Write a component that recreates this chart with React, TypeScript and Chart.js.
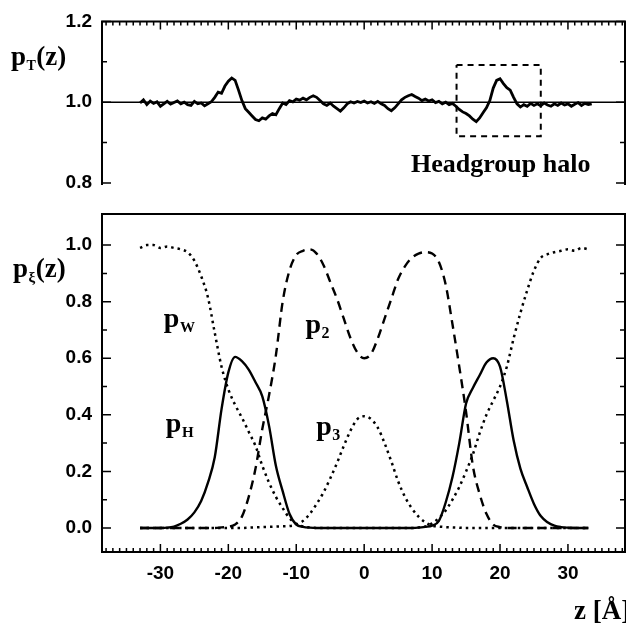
import React, { useEffect, useRef } from "react";
import { Chart, registerables } from "chart.js";

Chart.register(...registerables);

// ---------- data ----------
const zGrid = [
  -33, -32, -31, -30, -29, -28, -27, -26, -25, -24, -23, -22, -21, -20, -19, -18, -17,
  -16, -15, -14, -13, -12, -11, -10, -9, -8, -7, -6, -5, -4, -3, -2, -1, 0,
  1, 2, 3, 4, 5, 6, 7, 8, 9, 10, 11, 12, 13, 14, 15, 16, 17,
  18, 19, 20, 21, 22, 23, 24, 25, 26, 27, 28, 29, 30, 31, 32, 33,
];

// water
const pW = [
  0.99, 1.0, 1.0, 0.99, 0.995, 0.99, 0.985, 0.975, 0.945, 0.89, 0.815, 0.69, 0.57, 0.49, 0.435, 0.39, 0.34,
  0.29, 0.22, 0.16, 0.11, 0.07, 0.035, 0.015, 0.005, 0.002, 0.0, 0.0, 0.0, 0.0, 0.0, 0.0, 0.0, 0.0,
  0.0, 0.0, 0.0, 0.0, 0.0, 0.0, 0.0, 0.002, 0.005, 0.016, 0.035, 0.062, 0.1, 0.145, 0.2, 0.26, 0.335,
  0.4, 0.45, 0.5, 0.57, 0.67, 0.76, 0.84, 0.91, 0.955, 0.968, 0.975, 0.98, 0.985, 0.98, 0.99, 0.985,
];

// chains
const p2 = [
  0.0, 0.0, 0.0, 0.0, 0.0, 0.0, 0.0, 0.0, 0.0, 0.0, 0.0, 0.0, 0.002, 0.004, 0.012, 0.04, 0.11,
  0.21, 0.35, 0.47, 0.61, 0.8, 0.91, 0.965, 0.98, 0.985, 0.97, 0.93, 0.87, 0.81, 0.74, 0.67, 0.62, 0.6,
  0.615, 0.67, 0.74, 0.81, 0.88, 0.925, 0.955, 0.97, 0.975, 0.97, 0.94, 0.86, 0.72, 0.57, 0.41, 0.22, 0.12,
  0.05, 0.012, 0.003, 0.0, 0.0, 0.0, 0.0, 0.0, 0.0, 0.0, 0.0, 0.0, 0.0, 0.0, 0.0, 0.0,
];

// headgroups
const pH = [
  0.0, 0.0, 0.0, 0.0, 0.001, 0.005, 0.015, 0.03, 0.055, 0.095, 0.16, 0.25, 0.42, 0.55, 0.605, 0.59, 0.56,
  0.515, 0.465, 0.36, 0.22, 0.13, 0.05, 0.012, 0.004, 0.001, 0.0, 0.0, 0.0, 0.0, 0.0, 0.0, 0.0, 0.0,
  0.0, 0.0, 0.0, 0.0, 0.0, 0.0, 0.0, 0.001, 0.004, 0.008, 0.025, 0.09, 0.18, 0.3, 0.44, 0.495, 0.54,
  0.585, 0.6, 0.57, 0.45, 0.31, 0.21, 0.145, 0.085, 0.042, 0.02, 0.008, 0.003, 0.001, 0.0, 0.0, 0.0,
];

// terminal groups
const p3 = [
  0.0, 0.0, 0.0, 0.0, 0.0, 0.0, 0.0, 0.0, 0.0, 0.0, 0.0, 0.0, 0.0, 0.0, 0.0, 0.0, 0.001,
  0.002, 0.003, 0.004, 0.005, 0.006, 0.007, 0.012, 0.025, 0.05, 0.085, 0.125, 0.175, 0.23, 0.29, 0.345, 0.385, 0.395,
  0.385, 0.355, 0.3, 0.235, 0.165, 0.11, 0.07, 0.04, 0.02, 0.008, 0.005, 0.003, 0.002, 0.001, 0.0, 0.0, 0.0,
  0.0, 0.0, 0.0, 0.0, 0.0, 0.0, 0.0, 0.0, 0.0, 0.0, 0.0, 0.0, 0.0, 0.0, 0.0, 0.0,
];

// total density (top panel)
const ptZ = [
  -33, -32.5, -32, -31.5, -31, -30.5, -30, -29.5, -29, -28.5, -28, -27.5, -27, -26.5, -26, -25.5,
  -25, -24.5, -24, -23.5, -23, -22.5, -22, -21.5, -21, -20.5, -20, -19.5, -19, -18.5, -18, -17.5,
  -17, -16.5, -16, -15.5, -15, -14.5, -14, -13.5, -13, -12.5, -12, -11.5, -11, -10.5, -10, -9.5,
  -9, -8.5, -8, -7.5, -7, -6.5, -6, -5.5, -5, -4.5, -4, -3.5, -3, -2.5, -2, -1.5,
  -1, -0.5, 0, 0.5, 1, 1.5, 2, 2.5, 3, 3.5, 4, 4.5, 5, 5.5, 6, 6.5,
  7, 7.5, 8, 8.5, 9, 9.5, 10, 10.5, 11, 11.5, 12, 12.5, 13, 13.5, 14, 14.5,
  15, 15.5, 16, 16.5, 17, 17.5, 18, 18.5, 19, 19.5, 20, 20.5, 21, 21.5, 22, 22.5,
  23, 23.5, 24, 24.5, 25, 25.5, 26, 26.5, 27, 27.5, 28, 28.5, 29, 29.5, 30, 30.5,
  31, 31.5, 32, 32.5, 33, 33.5,
];
const pT = [
  0.998, 1.006, 0.994, 1.003, 0.997, 1.001, 0.99, 0.996, 1.002, 0.995, 0.999, 1.003, 0.996, 1.0, 0.994, 0.992,
  1.002, 0.996, 0.998, 0.991, 0.996, 1.001, 1.012, 1.025, 1.022, 1.04, 1.052, 1.06, 1.054, 1.03, 1.004, 0.984,
  0.975, 0.966, 0.957, 0.954, 0.961, 0.958, 0.966, 0.972, 0.969, 0.984, 0.998, 0.994, 1.004, 1.001, 1.008, 1.005,
  1.01, 1.006, 1.012, 1.016, 1.012, 1.004, 0.996, 0.992, 0.998, 0.99, 0.984, 0.978, 0.986, 0.996, 1.001, 0.998,
  1.002, 0.999, 1.003, 0.998, 1.001, 0.997, 1.002, 0.996, 0.992, 0.984, 0.979, 0.986, 0.996, 1.006, 1.012, 1.016,
  1.019, 1.014, 1.01, 1.004, 1.008, 1.003, 1.006, 0.999, 1.002, 0.996, 1.0, 0.994, 0.997, 0.99, 0.982, 0.976,
  0.972, 0.966, 0.958, 0.952, 0.961, 0.974, 0.986, 1.004, 1.035, 1.054, 1.058, 1.046, 1.036, 1.03, 1.012, 0.996,
  0.988, 0.994, 0.99, 0.997, 0.992, 0.996, 0.991, 0.998, 0.993, 0.99, 0.996, 0.992, 0.998, 0.993, 0.996, 0.99,
  0.995, 0.999, 0.992, 0.997, 0.994, 0.996,
];

// dashed "headgroup halo" box (data coordinates)
const haloZ = [13.6, 26.0, 26.0, 13.6, 13.6];
const haloP = [1.092, 1.092, 0.916, 0.916, 1.092];

const topYTicks = [0.8, 1.0, 1.2];
const topYMinor = [0.9, 1.1];
const botYTicks = [0.0, 0.2, 0.4, 0.6, 0.8, 1.0];
const botYMinor = [0.1, 0.3, 0.5, 0.7, 0.9];
const xTickLabels = [-30, -20, -10, 0, 10, 20, 30];

// ---------- layout / style ----------
const W = 626;
const H = 625;
const X_MIN = -38.6;
const X_MAX = 38.4;
const SANS = "'Liberation Sans', Arial, sans-serif";
const SERIF = "'Liberation Serif', 'Times New Roman', serif";

const xMinorTicks: number[] = [];
for (let k = Math.ceil(X_MIN); k <= Math.floor(X_MAX); k++) xMinorTicks.push(k);

function drawSub(ctx: CanvasRenderingContext2D, x: number, y: number, main: string, sub: string, tail: string, mainSize: number, subSize: number, subDy: number) {
  ctx.font = `bold ${mainSize}px ${SERIF}`;
  ctx.fillText(main, x, y);
  let cx = x + ctx.measureText(main).width + 0.5;
  ctx.font = `bold ${subSize}px ${SERIF}`;
  ctx.fillText(sub, cx, y + subDy);
  cx += ctx.measureText(sub).width + 0.5;
  if (tail) {
    ctx.font = `bold ${mainSize}px ${SERIF}`;
    ctx.fillText(tail, cx, y);
  }
}

const topFrame = {
  id: "topFrame",
  afterDraw(chart: any) {
    const { ctx, chartArea: a, scales } = chart;
    const xs = scales.x;
    const ys = scales.y;
    ctx.save();
    ctx.strokeStyle = "#000";
    ctx.fillStyle = "#000";
    ctx.lineWidth = 2;
    ctx.beginPath();
    ctx.moveTo(a.left, a.bottom + 2);
    ctx.lineTo(a.left, a.top);
    ctx.lineTo(a.right, a.top);
    ctx.lineTo(a.right, a.bottom + 2);
    ctx.stroke();
    // reference line at 1.0
    ctx.lineWidth = 1.5;
    const y1 = ys.getPixelForValue(1.0);
    ctx.beginPath();
    ctx.moveTo(a.left, y1);
    ctx.lineTo(a.right, y1);
    ctx.stroke();
    // ticks
    ctx.lineWidth = 1.5;
    ctx.beginPath();
    for (const k of xMinorTicks) {
      const px = xs.getPixelForValue(k);
      const len = k % 10 === 0 ? 8 : 4;
      ctx.moveTo(px, a.top);
      ctx.lineTo(px, a.top + len);
    }
    for (const v of topYTicks) {
      const py = ys.getPixelForValue(v);
      ctx.moveTo(a.left, py); ctx.lineTo(a.left + 9, py);
      ctx.moveTo(a.right, py); ctx.lineTo(a.right - 9, py);
    }
    for (const v of topYMinor) {
      const py = ys.getPixelForValue(v);
      ctx.moveTo(a.left, py); ctx.lineTo(a.left + 5, py);
      ctx.moveTo(a.right, py); ctx.lineTo(a.right - 5, py);
    }
    ctx.stroke();
    // texts
    ctx.textAlign = "left";
    ctx.textBaseline = "alphabetic";
    drawSub(ctx, 11, 65, "p", "T", "(z)", 27, 14, 5);
    ctx.font = `bold 26px ${SERIF}`;
    ctx.fillText("Headgroup halo", xs.getPixelForValue(6.9), ys.getPixelForValue(0.827));
    ctx.restore();
  },
};

const botFrame = {
  id: "botFrame",
  afterDraw(chart: any) {
    const { ctx, chartArea: a, scales } = chart;
    const xs = scales.x;
    const ys = scales.y;
    ctx.save();
    ctx.strokeStyle = "#000";
    ctx.fillStyle = "#000";
    ctx.lineWidth = 2;
    ctx.strokeRect(a.left, a.top, a.right - a.left, a.bottom - a.top);
    ctx.lineWidth = 1.5;
    ctx.beginPath();
    for (const k of xMinorTicks) {
      const px = xs.getPixelForValue(k);
      const len = k % 10 === 0 ? 8 : 4;
      ctx.moveTo(px, a.bottom);
      ctx.lineTo(px, a.bottom - len);
    }
    for (const v of botYTicks) {
      const py = ys.getPixelForValue(v);
      ctx.moveTo(a.left, py); ctx.lineTo(a.left + 9, py);
      ctx.moveTo(a.right, py); ctx.lineTo(a.right - 9, py);
    }
    for (const v of botYMinor) {
      const py = ys.getPixelForValue(v);
      ctx.moveTo(a.left, py); ctx.lineTo(a.left + 5, py);
      ctx.moveTo(a.right, py); ctx.lineTo(a.right - 5, py);
    }
    ctx.stroke();
    ctx.textAlign = "left";
    ctx.textBaseline = "alphabetic";
    drawSub(ctx, 13, 277, "p", "\u03BE", "(z)", 27, 15, 5);
    drawSub(ctx, xs.getPixelForValue(-29.5), ys.getPixelForValue(0.71), "p", "W", "", 28, 15, 5);
    drawSub(ctx, xs.getPixelForValue(-8.65), ys.getPixelForValue(0.689), "p", "2", "", 28, 16, 5);
    drawSub(ctx, xs.getPixelForValue(-29.2), ys.getPixelForValue(0.339), "p", "H", "", 28, 15, 5);
    drawSub(ctx, xs.getPixelForValue(-7.05), ys.getPixelForValue(0.329), "p", "3", "", 28, 16, 5);
    ctx.font = `bold 27px ${SERIF}`;
    ctx.fillText("z [\u00C5]", 574, 619);
    ctx.restore();
  },
};

const tickFont = { family: SANS, size: 19, weight: "bold" as const };

function pts(xsArr: number[], ysArr: number[]) {
  return xsArr.map((x, i) => ({ x, y: ysArr[i] }));
}

export default function App() {
  const topRef = useRef<HTMLCanvasElement | null>(null);
  const botRef = useRef<HTMLCanvasElement | null>(null);

  useEffect(() => {
    const top = new Chart(topRef.current!, {
      type: "line",
      data: {
        datasets: [
          {
            data: pts(ptZ, pT),
            borderColor: "#000",
            borderWidth: 2.8,
            pointRadius: 0,
            tension: 0,
          },
          {
            data: pts(haloZ, haloP),
            borderColor: "#000",
            borderWidth: 2,
            borderDash: [6, 5],
            pointRadius: 0,
            tension: 0,
          },
        ],
      },
      options: {
        responsive: false,
        animation: false,
        events: [],
        layout: { padding: { left: 0, right: 1, top: 0, bottom: H - 183 } },
        plugins: { legend: { display: false }, tooltip: { enabled: false } },
        scales: {
          x: {
            type: "linear",
            position: "top",
            min: X_MIN,
            max: X_MAX,
            grid: { display: false, drawTicks: false },
            border: { display: false },
            ticks: { display: false },
            afterFit: (s: any) => { s.height = 19; },
          },
          y: {
            type: "linear",
            min: 0.8,
            max: 1.2,
            grid: { display: false, drawTicks: false },
            border: { display: false },
            ticks: {
              color: "#000",
              font: tickFont,
              padding: 10,
              callback: (v: any) => Number(v).toFixed(1),
            },
            afterBuildTicks: (s: any) => { s.ticks = topYTicks.map((v) => ({ value: v })); },
            afterFit: (s: any) => { s.width = 102; },
          },
        },
      },
      plugins: [topFrame],
    });

    const dotted = [2.5, 4];
    const bot = new Chart(botRef.current!, {
      type: "line",
      data: {
        datasets: [
          { data: pts(zGrid, pH), borderColor: "#000", borderWidth: 2.4, pointRadius: 0, cubicInterpolationMode: "monotone" },
          { data: pts(zGrid, p2), borderColor: "#000", borderWidth: 2.4, borderDash: [9, 6], pointRadius: 0, cubicInterpolationMode: "monotone" },
          { data: pts(zGrid, pW), borderColor: "#000", borderWidth: 2.5, borderDash: dotted, pointRadius: 0, cubicInterpolationMode: "monotone" },
          { data: pts(zGrid, p3), borderColor: "#000", borderWidth: 2.5, borderDash: dotted, pointRadius: 0, cubicInterpolationMode: "monotone" },
        ],
      },
      options: {
        responsive: false,
        animation: false,
        events: [],
        layout: { padding: { left: 0, right: 1, top: 214, bottom: 0 } },
        plugins: { legend: { display: false }, tooltip: { enabled: false } },
        scales: {
          x: {
            type: "linear",
            position: "bottom",
            min: X_MIN,
            max: X_MAX,
            grid: { display: false, drawTicks: false },
            border: { display: false },
            ticks: {
              color: "#000",
              font: tickFont,
              padding: 10,
              maxRotation: 0,
              callback: (v: any) => String(v),
            },
            afterBuildTicks: (s: any) => { s.ticks = xTickLabels.map((v) => ({ value: v })); },
            afterFit: (s: any) => { s.height = H - 552; },
          },
          y: {
            type: "linear",
            min: -0.085,
            max: 1.11,
            grid: { display: false, drawTicks: false },
            border: { display: false },
            ticks: {
              color: "#000",
              font: tickFont,
              padding: 10,
              callback: (v: any) => Number(v).toFixed(1),
            },
            afterBuildTicks: (s: any) => { s.ticks = botYTicks.map((v) => ({ value: v })); },
            afterFit: (s: any) => { s.width = 102; },
          },
        },
      },
      plugins: [botFrame],
    });

    return () => {
      top.destroy();
      bot.destroy();
    };
  }, []);

  return (
    <div style={{ position: "absolute", left: 0, top: 0, width: W, height: H, background: "#fff", overflow: "hidden" }}>
      <canvas ref={topRef} width={W} height={H} style={{ position: "absolute", left: 0, top: 0 }} />
      <canvas ref={botRef} width={W} height={H} style={{ position: "absolute", left: 0, top: 0 }} />
    </div>
  );
}
